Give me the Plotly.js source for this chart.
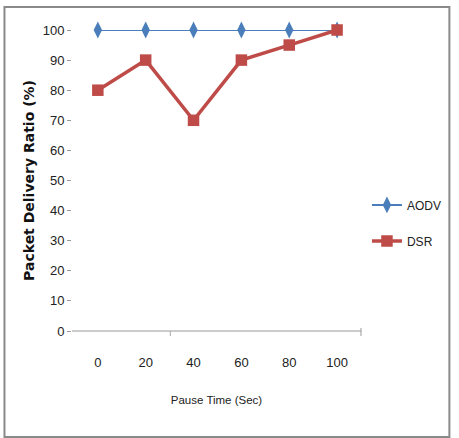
<!DOCTYPE html>
<html>
<head>
<meta charset="utf-8">
<script src="https://cdn.plot.ly/plotly-3.0.1.min.js"></script>
<style>
  html, body { margin: 0; padding: 0; background: #fff; }
  #chart { width: 459px; height: 438px; }
</style>
</head>
<body>
<div id="chart"></div>
<script>
// Pause time (seconds) on the x axis
const pauseTimes = [0, 20, 40, 60, 80, 100];
// Packet delivery ratio (%) per routing protocol
const aodvRatio = [100, 100, 100, 100, 100, 100];
const dsrRatio = [80, 90, 70, 90, 95, 100];
const yTicks = [0, 10, 20, 30, 40, 50, 60, 70, 80, 90, 100];

const tickFont = { family: 'Liberation Sans, Arial, sans-serif', size: 13, color: '#222' };
const plotW = 291, plotH = 301;

const traces = [
  {
    x: pauseTimes, y: aodvRatio, name: 'AODV', type: 'scatter', mode: 'lines+markers',
    legendgroup: 'a', cliponaxis: false,
    line: { color: '#4a7ebb', width: 2 },
    marker: { symbol: 'diamond-tall', size: 12, color: '#4a7ebb' }
  },
  {
    x: pauseTimes, y: dsrRatio, name: 'DSR', type: 'scatter', mode: 'lines+markers',
    legendgroup: 'b', cliponaxis: false,
    line: { color: '#be4b48', width: 3.5 },
    marker: { symbol: 'square', size: 11.5, color: '#be4b48' }
  }
];

const layout = {
  width: 459, height: 438,
  margin: { l: 72, r: 96, t: 30, b: 107 },
  paper_bgcolor: '#fff', plot_bgcolor: '#fff',
  showlegend: true,
  legend: {
    x: 1 + 6 / plotW, xanchor: 'left', y: 0.359, yanchor: 'middle',
    traceorder: 'grouped', tracegroupgap: 17, itemwidth: 30,
    font: { family: 'Liberation Sans, Arial, sans-serif', size: 12, color: '#222' },
    bgcolor: 'rgba(0,0,0,0)'
  },
  xaxis: {
    range: [-10.8, 110], tickvals: pauseTimes, ticktext: pauseTimes.map(String),
    showgrid: false, zeroline: false, showline: false, ticks: '',
    tickfont: tickFont, ticklabelstandoff: 22,
    title: { text: 'Pause Time (Sec)', font: { family: 'Liberation Sans, Arial, sans-serif', size: 11.5, color: '#222' }, standoff: 26 }
  },
  yaxis: {
    range: [0, 100], tickvals: yTicks, showgrid: false, zeroline: false, showline: false,
    ticks: 'outside', ticklen: 4, tickcolor: '#999', tickwidth: 1,
    tickfont: tickFont,
    title: { text: '<b>Packet Delivery Ratio (%)</b>', font: { family: 'DejaVu Sans, Verdana, sans-serif', size: 14, color: '#111' }, standoff: 4 }
  },
  shapes: [
    // x axis baseline
    { type: 'line', xref: 'paper', yref: 'paper', x0: 0, x1: 1, y0: 0, y1: 0, line: { color: '#999', width: 1.2 } },
    // category divider ticks on the x axis
    { type: 'line', xref: 'paper', yref: 'paper', x0: 99 / plotW, x1: 99 / plotW, y0: 0, y1: -5 / plotH, line: { color: '#aaa', width: 1 } },
    { type: 'line', xref: 'paper', yref: 'paper', x0: 1, x1: 1, y0: 3 / plotH, y1: -5 / plotH, line: { color: '#999', width: 1 } },
    // chart border
    { type: 'rect', xref: 'paper', yref: 'paper',
      x0: -68 / plotW, x1: 1 + 89 / plotW, y0: -106 / plotH, y1: 1 + 23 / plotH,
      line: { color: '#8a8a8a', width: 2 } }
  ]
};

Plotly.newPlot('chart', traces, layout, { displayModeBar: false, staticPlot: true });
</script>
</body>
</html>
